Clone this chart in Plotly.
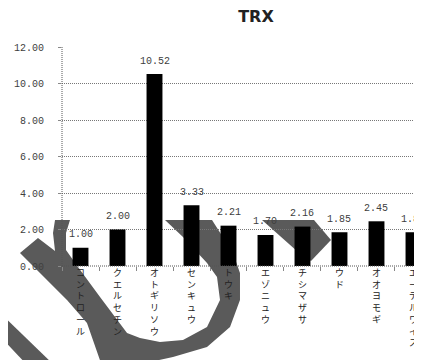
import plotly.graph_objects as go

categories = ["コントロール", "クエルセチン", "オトギリソウ", "センキュウ", "トウキ",
              "エゾニュウ", "チシマザサ", "ウド", "オオヨモギ", "エーデルワイス"]
values = [1.00, 2.00, 10.52, 3.33, 2.21, 1.70, 2.16, 1.85, 2.45, 1.85]
value_labels = ["1.00", "2.00", "10.52", "3.33", "2.21", "1.70", "2.16", "1.85", "2.45", "1.85"]
y_ticks = [0, 2, 4, 6, 8, 10, 12]
y_tick_labels = ["0.00", "2.00", "4.00", "6.00", "8.00", "10.00", "12.00"]
title_text = "TRX"

OFF = 8  # browser default body margin
W, H = 422 - OFF, 360 - OFF
ML, MR, MT, MB = 62 - OFF, 0, 47 - OFF, 360 - 266
PW, PH = W - ML - MR, H - MT - MB

def px2paper(px, py):
    # px, py are window pixel coordinates
    fx, fy = px - OFF, py - OFF
    return (fx - ML) / PW, (H - MB - fy) / PH

def poly_path(points):
    pts = [px2paper(x, y) for x, y in points]
    return "M " + " L ".join(f"{x:.4f},{y:.4f}" for x, y in pts) + " Z"

# decorative gray arrow overlay (window-pixel outlines)
loop_outline = [(20, 253), (38, 238), (55, 251), (53, 233), (55, 220), (70, 220),
                (66, 233), (66, 250), (78, 267), (100, 297), (127, 333), (140, 338),
                (160, 342), (183, 340), (207, 327), (220, 300), (217, 277), (207, 263),
                (183, 237), (165, 220), (212, 220), (233, 253), (240, 273), (240, 300),
                (230, 327), (207, 347), (173, 357), (150, 362), (140, 366), (102, 366),
                (87, 323), (67, 300), (47, 280)]
head_outline = [(262, 220), (314, 220), (331, 240), (311, 261), (298, 252)]
tail_outline = [(-5, 308), (55, 366), (28, 366), (-5, 331)]

fig = go.Figure()
fig.add_trace(go.Bar(
    x=categories, y=values, width=0.43,
    marker=dict(color="#000000", line=dict(width=0)),
    hoverinfo="skip", showlegend=False,
))

for c, v, t in zip(categories, values, value_labels):
    fig.add_annotation(x=c, y=v, text=t, showarrow=False, yanchor="middle",
                       yshift=13, font=dict(family="Liberation Mono", size=10, color="#404040"))

gray = "#5a5a5a"
shapes = []
for outline in (loop_outline, head_outline, tail_outline):
    shapes.append(dict(type="path", path=poly_path(outline), xref="paper", yref="paper",
                       fillcolor=gray, line=dict(width=0), layer="below"))
# dotted axis lines
shapes.append(dict(type="line", xref="paper", yref="paper", x0=0, x1=0, y0=0, y1=1,
                   line=dict(color="#555555", width=1, dash="1px,1px"), layer="above"))
shapes.append(dict(type="line", xref="paper", yref="paper", x0=0, x1=1, y0=0, y1=0,
                   line=dict(color="#555555", width=1, dash="1px,1px"), layer="above"))

ticktext = ["<br>".join(list(c)) for c in categories]

fig.update_layout(
    width=W, height=H,
    margin=dict(l=ML, r=MR, t=MT, b=MB, pad=0, autoexpand=False),
    paper_bgcolor="white", plot_bgcolor="rgba(0,0,0,0)",
    shapes=shapes,
    title=dict(text=f"<b>{title_text}</b>", x=(256 - OFF) / W, xref="container", xanchor="center",
               y=1 - (16 - OFF) / H, yref="container", yanchor="middle",
               font=dict(family="DejaVu Sans", size=16, color="#222222")),
    xaxis=dict(
        type="category", range=[-0.5, 9.23], automargin=False,
        tickvals=categories, ticktext=ticktext,
        tickfont=dict(family="Noto Sans CJK JP", size=9, color="#222222"),
        ticks="outside", tickson="boundaries", ticklen=4, tickcolor="#888888",
        showgrid=False, showline=False, zeroline=False, tickangle=0,
    ),
    yaxis=dict(
        range=[0, 12], tickvals=y_ticks, ticktext=y_tick_labels, automargin=False,
        tickfont=dict(family="Liberation Mono", size=10, color="#404040"),
        ticks="outside", ticklen=3, tickcolor="#888888", ticklabelstandoff=12,
        showgrid=True, gridcolor="#777777", griddash="1px,1px", gridwidth=1,
        showline=False, zeroline=False,
    ),
    bargap=0.57,
)

fig.write_html("out.html")
